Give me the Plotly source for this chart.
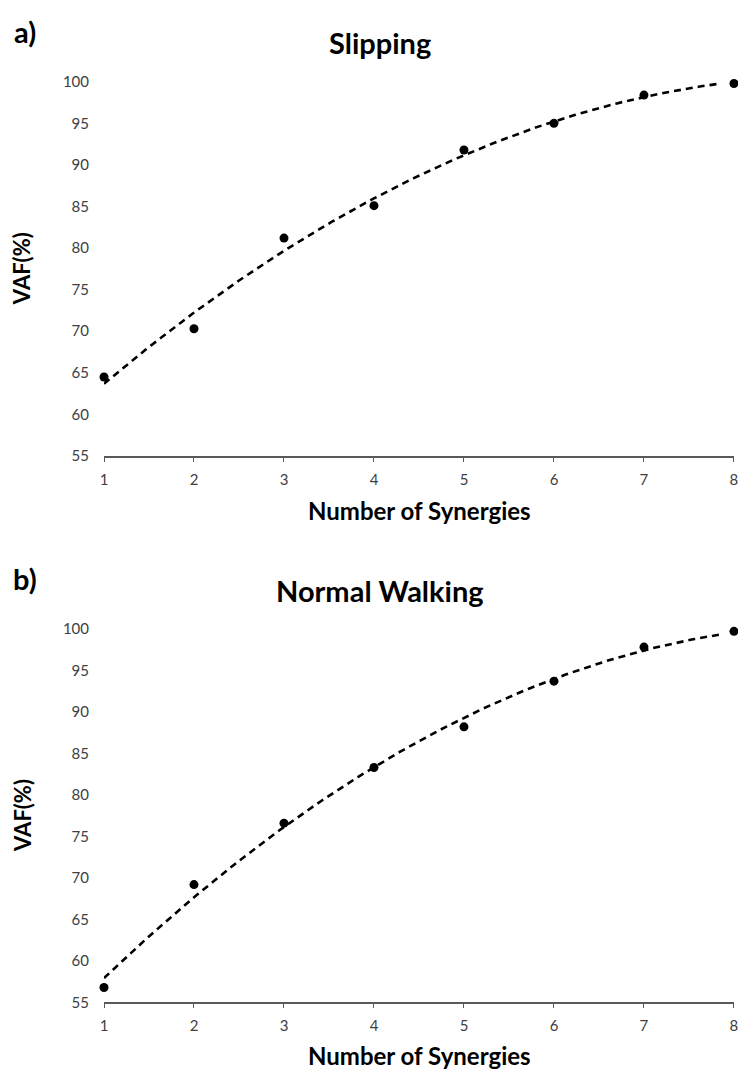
import numpy as np
import plotly.graph_objects as go

# Number of synergies and the variance accounted for (%)
synergies = [1, 2, 3, 4, 5, 6, 7, 8]
vaf_slipping = [64.5, 70.3, 81.2, 85.1, 91.8, 95.0, 98.4, 99.8]
vaf_walking = [56.8, 69.2, 76.6, 83.3, 88.2, 93.7, 97.8, 99.7]
y_ticks = [55, 60, 65, 70, 75, 80, 85, 90, 95, 100]
x_ticks = synergies

W, H = 738, 1081
ML, MR = 104, 2
FONT = "Lato"
TICK_COLOR = "#404040"
AXIS_COLOR = "#595959"


def trend(x, y):
    """Second-order polynomial trendline through the data."""
    coef = np.polyfit(x, y, 2)
    xs = np.linspace(min(x), 7.85, 120)
    return xs, np.polyval(coef, xs)


fig = go.Figure()

panels = [
    ("x", "y", vaf_slipping),
    ("x2", "y2", vaf_walking),
]
for xa, ya, vals in panels:
    tx, ty = trend(synergies, vals)
    fig.add_trace(go.Scatter(
        x=tx, y=ty, xaxis=xa, yaxis=ya, mode="lines",
        line=dict(color="black", width=2.6, dash="7px,5px"),
        showlegend=False, hoverinfo="skip", cliponaxis=False,
    ))
    fig.add_trace(go.Scatter(
        x=synergies, y=vals, xaxis=xa, yaxis=ya, mode="markers",
        marker=dict(color="black", size=9),
        showlegend=False, cliponaxis=False,
    ))


def px_to_paper_y(py):
    return 1 - py / H


def px_to_paper_x(px):
    return (px - ML) / (W - ML - MR)


top_dom = [px_to_paper_y(453.5), px_to_paper_y(73)]
bot_dom = [px_to_paper_y(1009.3), px_to_paper_y(629.3)]

X_RANGE = [1, 8.0005]

xaxis_common = dict(
    range=X_RANGE, tickvals=x_ticks, showgrid=False, zeroline=False,
    showline=True, linecolor=AXIS_COLOR, linewidth=1.5,
    ticks="outside", ticklen=4, tickwidth=1.3, tickcolor=AXIS_COLOR,
    tickfont=dict(family=FONT, size=15, color=TICK_COLOR),
    ticklabelstandoff=5, ticklabeloverflow="allow",
)
yaxis_common = dict(
    range=[55, 100], tickvals=y_ticks, showgrid=False, zeroline=False,
    showline=False, ticks="",
    tickfont=dict(family=FONT, size=15, color=TICK_COLOR),
    ticklabelstandoff=14,
)
# companion axes drawing the upper half of each tick mark
inner_ticks = dict(
    range=X_RANGE, tickvals=x_ticks, showgrid=False, zeroline=False,
    showline=False, ticks="inside", ticklen=4, tickwidth=1.3,
    tickcolor=AXIS_COLOR, showticklabels=False, side="bottom",
)

fig.update_layout(
    width=W, height=H,
    margin=dict(l=ML, r=MR, t=0, b=0),
    paper_bgcolor="white", plot_bgcolor="white",
    xaxis=dict(**xaxis_common, anchor="y", domain=[0, 1]),
    yaxis=dict(**yaxis_common, anchor="x", domain=top_dom),
    xaxis2=dict(**xaxis_common, anchor="y2", domain=[0, 1]),
    yaxis2=dict(**yaxis_common, anchor="x2", domain=bot_dom),
    xaxis3=dict(**inner_ticks, overlaying="x", anchor="y"),
    xaxis4=dict(**inner_ticks, overlaying="x2", anchor="y2"),
)

bold = dict(family=FONT, color="black", weight="bold")
annotations = [
    # panel letters
    dict(text="a)", x=px_to_paper_x(25), y=px_to_paper_y(22), size=29),
    dict(text="b)", x=px_to_paper_x(25), y=px_to_paper_y(578), size=29),
    # panel titles
    dict(text="Slipping", x=px_to_paper_x(381), y=px_to_paper_y(33), size=29),
    dict(text="Normal Walking", x=px_to_paper_x(381), y=px_to_paper_y(590), size=29),
    # x-axis titles
    dict(text="Number of Synergies", x=px_to_paper_x(421), y=px_to_paper_y(509), size=24),
    dict(text="Number of Synergies", x=px_to_paper_x(421), y=px_to_paper_y(1063), size=24),
]
for a in annotations:
    fig.add_annotation(
        text=a["text"], x=a["x"], y=a["y"], xref="paper", yref="paper",
        xanchor="center", yanchor="middle", showarrow=False,
        font=dict(**bold, size=a["size"]),
    )

# y-axis titles
for cy in [(73 + 453.5) / 2, (629.3 + 1009.3) / 2]:
    fig.add_annotation(
        text="VAF(%)", x=px_to_paper_x(22), y=px_to_paper_y(cy),
        xref="paper", yref="paper", xanchor="center", yanchor="middle",
        textangle=-90, showarrow=False, font=dict(**bold, size=22),
    )

fig.write_html("out.html")
